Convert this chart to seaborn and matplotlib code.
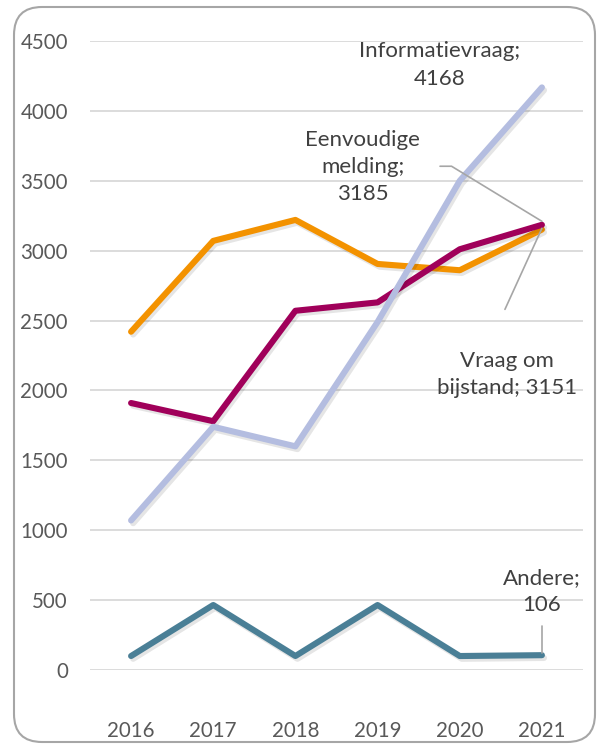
import pandas as pd
import matplotlib
matplotlib.use("Agg")
import matplotlib.pyplot as plt
import matplotlib.patheffects as pe
from matplotlib.patches import FancyBboxPatch
import seaborn as sns

# data
years = [2016, 2017, 2018, 2019, 2020, 2021]
informatievraag = [1070, 1740, 1600, 2490, 3500, 4168]
eenvoudige_melding = [1910, 1780, 2570, 2630, 3010, 3185]
vraag_om_bijstand = [2420, 3070, 3220, 2905, 2860, 3151]
andere = [100, 465, 100, 465, 100, 106]

series_names = ["Vraag om bijstand", "Eenvoudige melding", "Informatievraag", "Andere"]
colors = ["#F39200", "#A0005A", "#B4BDE0", "#4A7F96"]

df = pd.DataFrame({
    "jaar": years * 4,
    "aantal": vraag_om_bijstand + eenvoudige_melding + informatievraag + andere,
    "reeks": sum([[n] * len(years) for n in series_names], []),
})

sns.set_style("white")
plt.rcParams["font.family"] = ["Lato", "DejaVu Sans"]

fig = plt.figure(figsize=(6.01, 7.46), dpi=100)
ax = fig.add_axes([90 / 601, 1 - 670 / 746, 493 / 601, 629 / 746])

sns.lineplot(data=df, x="jaar", y="aantal", hue="reeks", hue_order=series_names,
             palette=colors, linewidth=4.4, legend=False, ax=ax)
for line in ax.get_lines():
    line.set_solid_capstyle("round")
    line.set_solid_joinstyle("round")
    line.set_path_effects([pe.SimpleLineShadow(offset=(1.5, -2), alpha=0.1, shadow_color="black"),
                           pe.Normal()])

ax.set_xlim(2015.5, 2021.5)
ax.set_ylim(0, 4500)
ax.set_yticks(range(0, 4501, 500))
ax.set_xticks(years)
ax.yaxis.grid(True, color="#D9D9D9", linewidth=1.3)
ax.set_axisbelow(True)
for s in ax.spines.values():
    s.set_visible(False)
ax.tick_params(axis="both", length=0, labelsize=14.8, labelcolor="#595959")
ax.tick_params(axis="y", pad=16)
ax.tick_params(axis="x", pad=37)
ax.set_xlabel("")
ax.set_ylabel("")

lbl = dict(fontsize=16, color="#404040", ha="center", va="center", linespacing=1.45)
ax.text(2019.76, 4328, "Informatievraag;\n4168", **lbl)
ax.text(2018.82, 3597, "Eenvoudige\nmelding;\n3185", **lbl)
ax.text(2020.57, 2114, "Vraag om\nbijstand; 3151", **lbl)
ax.text(2021.0, 559, "Andere;\n106", **lbl)

lead = dict(color="#A6A6A6", linewidth=1.2)
ax.plot([2019.76, 2019.9, 2021.0], [3604, 3604, 3210], **lead)
ax.plot([2020.55, 2021.0], [2580, 3160], **lead)
ax.plot([2021.0, 2021.0], [315, 125], **lead)

border = FancyBboxPatch((0.14, 0.04), 5.81, 7.35, boxstyle="round,pad=0,rounding_size=0.28",
                        transform=fig.dpi_scale_trans, facecolor="none",
                        edgecolor="#A6A6A6", linewidth=1.5, clip_on=False)
fig.patches.append(border)

fig.savefig("out.png", dpi=100)
